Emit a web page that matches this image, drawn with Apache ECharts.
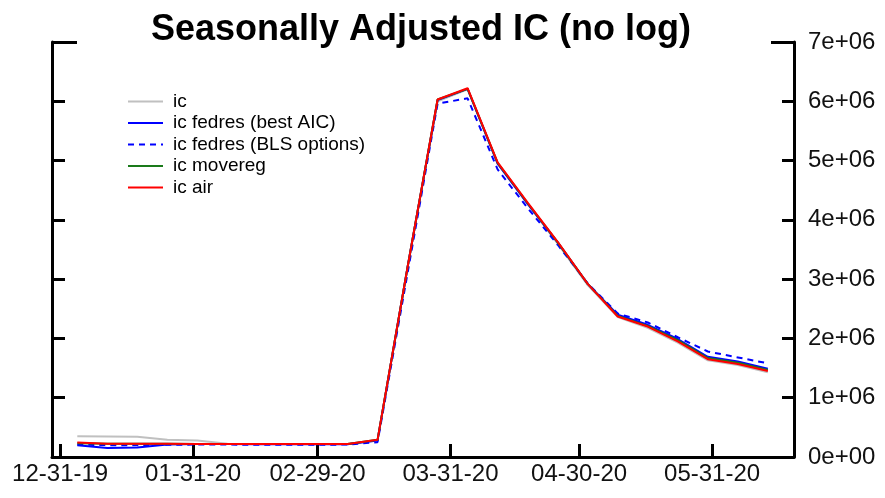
<!doctype html>
<html style="height: 100%">
  <head>
    <meta charset="utf-8">
    <title>Seasonally Adjusted IC</title>
  </head>
<body style="height: 100%; margin: 0; background: #fff">
<div id="container" style="width: 885px; height: 498px"></div>

<script type="text/javascript" src="https://cdn.jsdelivr.net/npm/echarts@6/dist/echarts.min.js"></script>
<script>
// weekly dates (week ending)
var weeks = ['2020-01-04','2020-01-11','2020-01-18','2020-01-25','2020-02-01','2020-02-08',
             '2020-02-15','2020-02-22','2020-02-29','2020-03-07','2020-03-14','2020-03-21',
             '2020-03-28','2020-04-04','2020-04-11','2020-04-18','2020-04-25','2020-05-02',
             '2020-05-09','2020-05-16','2020-05-23','2020-05-30','2020-06-06','2020-06-13'];

var ic        = [350000,345000,340000,290000,280000,225000,220000,220000,220000,220000,280000,3200000,
                 6000000,6200000,4950000,4270000,3600000,2900000,2360000,2180000,1930000,1630000,1550000,1430000];
var icFedBest = [200000,150000,160000,210000,220000,220000,215000,215000,215000,215000,280000,3200000,
                 6020000,6210000,4950000,4270000,3620000,2920000,2400000,2230000,1990000,1690000,1610000,1490000];
var icFedBls  = [210000,200000,200000,205000,210000,210000,205000,205000,205000,210000,250000,3100000,
                 5960000,6050000,4850000,4200000,3580000,2930000,2420000,2270000,2020000,1780000,1680000,1580000];
var icMovereg = [230000,225000,225000,225000,220000,220000,220000,220000,220000,220000,290000,3200000,
                 6030000,6210000,4960000,4280000,3620000,2920000,2380000,2210000,1970000,1670000,1590000,1470000];
var icAir     = [245000,225000,225000,225000,220000,220000,220000,220000,220000,220000,290000,3200000,
                 6030000,6220000,4970000,4290000,3630000,2920000,2370000,2200000,1950000,1650000,1570000,1450000];

var xTicks = ['2019-12-31','2020-01-31','2020-02-29','2020-03-31','2020-04-30','2020-05-31'];

function toTime(s) {
  var p = s.split('-');
  return Date.UTC(+p[0], +p[1] - 1, +p[2]);
}
function pairs(vals) {
  return weeks.map(function (w, i) { return [toTime(w), vals[i]]; });
}
function pad(n) { return (n < 10 ? '0' : '') + n; }

var dom = document.getElementById("container");
var myChart = echarts.init(dom, null, {renderer: 'canvas'});

var tickTimes = xTicks.map(toTime);
var day = 86400000;
var xMin = toTime('2019-12-29') + 0.1 * day;
var xMax = toTime('2020-06-19') + 0.1 * day;

var font = 'Liberation Sans, Arial, sans-serif';
var axisCol = '#000';

// extra long tick at the top of each side (R style)
function topStub(pos, len) {
  return {
    type: 'value', position: pos, min: 0, max: 7000000,
    axisLine: {show: false},
    axisTick: {show: true, inside: true, length: len, customValues: [7000000],
               lineStyle: {color: axisCol, width: 3}},
    axisLabel: {show: false},
    splitLine: {show: false}
  };
}

var option = {
  animation: false,
  title: {
    text: 'Seasonally Adjusted IC (no log)',
    left: 146,
    top: 7,
    textStyle: {fontSize: 36, fontWeight: 'bold', color: '#000', fontFamily: font}
  },
  legend: {
    orient: 'vertical',
    left: 122,
    top: 87,
    itemWidth: 35,
    itemHeight: 14,
    itemGap: 2.5,
    itemStyle: {opacity: 0},
    textStyle: {fontSize: 19, color: '#000', fontFamily: font, lineHeight: 19, padding: [0, 0, 0, 5]},
    data: ['ic', 'ic fedres (best AIC)', 'ic fedres (BLS options)', 'ic movereg', 'ic air']
  },
  grid: {left: 52, right: 91, top: 42, bottom: 41},
  xAxis: {
    type: 'value',
    min: xMin,
    max: xMax,
    axisLine: {show: true, onZero: false, lineStyle: {color: axisCol, width: 3}},
    axisTick: {show: true, inside: true, length: 13, customValues: tickTimes,
               lineStyle: {color: axisCol, width: 3}},
    axisLabel: {
      customValues: tickTimes,
      margin: 5,
      fontSize: 24, color: '#111', fontFamily: font,
      formatter: function (v) {
        var d = new Date(v);
        return pad(d.getUTCMonth() + 1) + '-' + pad(d.getUTCDate()) + '-' + String(d.getUTCFullYear()).slice(2);
      }
    },
    splitLine: {show: false}
  },
  yAxis: [{
    type: 'value',
    position: 'right',
    min: 0, max: 7000000, interval: 1000000,
    axisLine: {show: true, lineStyle: {color: axisCol, width: 3}},
    axisTick: {show: true, inside: true, length: 12, lineStyle: {color: axisCol, width: 3}},
    axisLabel: {
      margin: 14, fontSize: 24, color: '#111', fontFamily: font,
      formatter: function (v) { return v === 0 ? '0e+00' : (v / 1000000) + 'e+06'; }
    },
    splitLine: {show: false}
  }, {
    type: 'value',
    position: 'left',
    min: 0, max: 7000000, interval: 1000000,
    axisLine: {show: true, onZero: false, lineStyle: {color: axisCol, width: 3}},
    axisTick: {show: true, inside: true, length: 13, lineStyle: {color: axisCol, width: 3}},
    axisLabel: {show: false},
    splitLine: {show: false}
  },
  topStub('left', 25),
  topStub('right', 23)],
  series: [
    {name: 'ic', type: 'line', symbol: 'none', data: pairs(ic),
     lineStyle: {color: '#c0c0c0', width: 2}, itemStyle: {color: '#c0c0c0'}},
    {name: 'ic fedres (best AIC)', type: 'line', symbol: 'none', data: pairs(icFedBest),
     lineStyle: {color: '#0000ff', width: 2}, itemStyle: {color: '#0000ff'}},
    {name: 'ic fedres (BLS options)', type: 'line', symbol: 'none', data: pairs(icFedBls),
     lineStyle: {color: '#0000ff', width: 2, type: [6, 5]}, itemStyle: {color: '#0000ff'}},
    {name: 'ic movereg', type: 'line', symbol: 'none', data: pairs(icMovereg),
     lineStyle: {color: '#1a7a1a', width: 2}, itemStyle: {color: '#1a7a1a'}},
    {name: 'ic air', type: 'line', symbol: 'none', data: pairs(icAir),
     lineStyle: {color: '#ff0000', width: 2}, itemStyle: {color: '#ff0000'}}
  ]
};

if (option && typeof option === "object") {
  myChart.setOption(option, true);
}
</script>

</body>
</html>
